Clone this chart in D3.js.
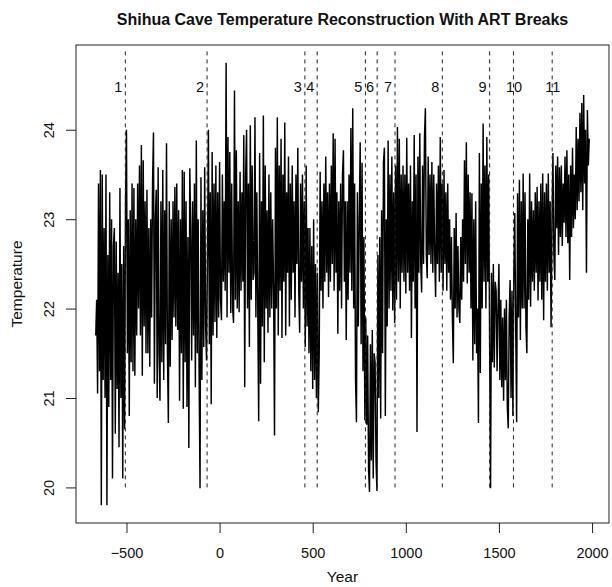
<!DOCTYPE html>
<html>
<head>
<meta charset="utf-8">
<script src="https://cdn.jsdelivr.net/npm/d3@7"></script>
<style>
  body { margin: 0; background: #fff; }
  svg { display: block; }
  text { font-family: "Liberation Sans", Arial, Helvetica, sans-serif; fill: #111; }
</style>
</head>
<body>
<svg id="chart" width="612" height="587"></svg>
<script>
// ---- data ----
const startYear = -665;   // first year of the series
const stepYears = 5;      // spacing of the samples
const temperature = [
  // -665 .. -620
  21.7, 22.1, 21.05, 23.4, 21.3, 23.55, 19.8, 23.5, 21.2, 22.9,
  // -615 .. -570
  21.0, 23.5, 19.8, 22.6, 20.9, 23.3, 21.2, 23.0, 20.1, 22.7,
  // -565 .. -520
  22.9, 20.6, 22.75, 21.1, 22.4, 20.45, 23.35, 21.0, 22.5, 20.1,
  // -515 .. -470
  22.7, 20.65, 23.2, 24.0, 21.5, 23.0, 20.8, 23.1, 21.4, 23.4,
  // -465 .. -420
  21.3, 23.35, 21.25, 23.0, 21.7, 23.4, 22.0, 23.6, 21.7, 23.83,
  // -415 .. -370
  21.25, 23.66, 21.8, 23.2, 21.5, 23.33, 21.5, 22.9, 21.35, 23.0,
  // -365 .. -320
  21.9, 23.4, 23.97, 21.16, 23.0, 23.33, 21.0, 23.58, 21.5, 20.97,
  // -315 .. -270
  23.2, 21.4, 23.55, 21.2, 23.1, 21.6, 23.85, 21.5, 20.72, 23.2,
  // -265 .. -220
  21.35, 23.0, 21.65, 23.2, 21.9, 23.36, 21.8, 23.4, 21.76, 23.1,
  // -215 .. -170
  20.97, 23.0, 21.5, 23.55, 20.88, 23.53, 21.4, 23.2, 20.9, 22.8,
  // -165 .. -120
  20.44, 23.57, 22.9, 21.42, 23.2, 21.7, 23.4, 21.12, 23.88, 21.5,
  // -115 .. -70
  23.0, 21.3, 19.99, 23.47, 21.2, 23.1, 21.57, 23.58, 21.8, 21.42,
  // -65 .. -20
  22.6, 24.0, 21.6, 23.3, 20.93, 23.75, 21.7, 23.4, 21.85, 23.6,
  // -15 .. 30
  21.67, 23.3, 21.9, 23.64, 22.1, 21.87, 23.5, 22.3, 23.2, 22.2,
  // 35 .. 80
  24.75, 21.9, 23.92, 22.4, 23.75, 21.95, 23.4, 22.0, 21.84, 24.44,
  // 85 .. 130
  22.1, 23.77, 22.0, 23.2, 21.96, 23.53, 22.2, 23.3, 22.3, 23.94,
  // 135 .. 180
  21.12, 23.5, 24.0, 22.0, 23.4, 21.57, 24.05, 22.1, 23.6, 22.32,
  // 185 .. 230
  22.4, 24.14, 21.9, 23.3, 22.0, 20.74, 23.74, 21.16, 23.2, 21.8,
  // 235 .. 280
  24.16, 21.4, 23.6, 22.0, 23.1, 21.73, 23.5, 21.9, 23.3, 22.0,
  // 285 .. 330
  23.0, 22.2, 20.58, 23.8, 22.0, 24.14, 21.7, 23.6, 22.2, 23.9,
  // 335 .. 380
  21.67, 23.5, 22.3, 24.08, 21.7, 23.3, 22.4, 23.7, 21.8, 23.4,
  // 385 .. 430
  22.1, 23.6, 22.4, 23.2, 21.9, 23.5, 22.5, 23.8, 22.2, 21.73,
  // 435 .. 480
  23.4, 22.3, 23.5, 22.0, 23.2, 21.57, 23.6, 21.8, 22.9, 21.5,
  // 485 .. 530
  22.9, 21.3, 22.7, 21.1, 23.0, 21.2, 22.5, 21.0, 22.4, 20.84,
  // 535 .. 580
  21.5, 23.53, 22.2, 23.2, 22.0, 23.4, 22.3, 23.7, 22.4, 23.3,
  // 585 .. 630
  22.13, 23.4, 22.3, 23.6, 22.5, 23.96, 22.2, 23.9, 22.4, 23.3,
  // 635 .. 680
  21.72, 23.2, 22.2, 23.4, 22.0, 23.5, 23.77, 22.3, 23.2, 21.65,
  // 685 .. 730
  23.2, 22.1, 23.5, 22.4, 24.02, 22.2, 24.24, 22.0, 23.4, 21.2,
  // 735 .. 780
  20.73, 23.3, 21.8, 23.0, 23.86, 21.6, 23.63, 21.3, 22.8, 20.75,
  // 785 .. 830
  21.9, 20.7, 21.7, 20.2, 19.95, 21.6, 20.3, 21.76, 20.1, 21.5,
  // 835 .. 880
  21.4, 20.3, 19.96, 22.6, 21.0, 22.8, 20.77, 23.1, 21.5, 23.64,
  // 885 .. 930
  23.8, 20.8, 23.0, 21.8, 23.88, 22.0, 23.5, 22.2, 23.7, 21.98,
  // 935 .. 980
  23.3, 21.84, 23.6, 22.1, 24.03, 22.3, 23.9, 22.0, 23.5, 22.4,
  // 985 .. 1030
  23.6, 22.3, 23.5, 22.17, 23.91, 22.4, 23.4, 22.2, 23.6, 21.67,
  // 1035 .. 1080
  23.2, 22.3, 23.94, 22.0, 23.5, 20.62, 23.7, 22.4, 23.96, 22.5,
  // 1085 .. 1130
  22.18, 23.6, 22.5, 23.9, 24.24, 22.6, 22.34, 23.7, 22.6, 23.5,
  // 1135 .. 1180
  22.5, 23.64, 22.4, 23.5, 22.6, 22.13, 23.4, 22.5, 23.6, 22.3,
  // 1185 .. 1230
  23.92, 22.4, 23.4, 22.2, 23.55, 22.5, 23.3, 22.2, 23.4, 22.4,
  // 1235 .. 1280
  23.0, 22.1, 22.8, 21.9, 21.39, 22.9, 22.0, 23.07, 21.9, 22.7,
  // 1285 .. 1330
  22.0, 21.84, 22.8, 22.1, 23.0, 22.3, 23.66, 22.5, 23.86, 22.28,
  // 1335 .. 1380
  23.5, 22.4, 23.3, 22.0, 23.29, 21.42, 23.0, 21.6, 23.2, 21.5,
  // 1385 .. 1430
  22.0, 20.72, 23.74, 21.28, 23.4, 22.0, 24.07, 22.3, 23.6, 22.0,
  // 1435 .. 1480
  23.92, 22.3, 23.5, 21.6, 19.99, 22.4, 21.4, 22.5, 21.34, 22.3,
  // 1485 .. 1530
  22.2, 21.3, 22.0, 22.5, 21.2, 22.1, 21.12, 21.9, 20.97, 22.0,
  // 1535 .. 1580
  21.2, 22.1, 20.9, 20.66, 21.9, 22.32, 21.0, 22.2, 20.8, 22.4,
  // 1585 .. 1630
  23.07, 21.8, 20.73, 23.29, 21.9, 23.44, 21.65, 23.2, 22.0, 23.51,
  // 1635 .. 1680
  22.0, 23.3, 21.8, 21.5, 23.0, 22.1, 23.51, 22.02, 23.2, 22.3,
  // 1685 .. 1730
  23.1, 22.2, 23.3, 22.4, 23.36, 22.09, 23.2, 22.3, 23.4, 22.1,
  // 1735 .. 1780
  23.51, 21.87, 23.3, 22.3, 23.4, 22.2, 23.51, 22.4, 23.2, 21.79,
  // 1785 .. 1830
  23.0, 23.74, 22.6, 22.32, 23.6, 22.9, 23.7, 22.6, 23.58, 22.8,
  // 1835 .. 1880
  23.6, 22.7, 23.4, 22.96, 23.7, 22.8, 23.77, 22.73, 23.5, 22.32,
  // 1885 .. 1930
  23.6, 22.8, 23.8, 22.9, 23.5, 23.0, 24.03, 23.1, 23.9, 23.2,
  // 1935 .. 1980
  24.19, 23.3, 24.3, 23.1, 24.39, 23.4, 24.0, 22.4, 24.22, 23.6,
  // 1985
  23.9
];
const breakYears  = [-506, -67, 458, 524, 783, 846, 942, 1196, 1450, 1578, 1786];
const breakLabels = ["1", "2", "3", "4", "5", "6", "7", "8", "9", "10", "11"];
const xTickValues = [-500, 0, 500, 1000, 1500, 2000];
const yTickValues = [20, 21, 22, 23, 24];
const titleText = "Shihua Cave Temperature Reconstruction With ART Breaks";
const xLabelText = "Year";
const yLabelText = "Temperature";

// ---- layout ----
const W = 612, H = 587;
const box = { left: 76, right: 609, top: 45, bottom: 523 };
const breakTop = 24.88;     // top of the break segments (data units)
const breakBottom = 20;     // bottom of the break segments
const breakLabelY = 24.48;  // vertical position of break numbers

const series = temperature.map((t, i) => ({ year: startYear + i * stepYears, t }));

// R-style 4% padding of the data range
const xExt = d3.extent(series, d => d.year);
const yExt = d3.extent(series, d => d.t);
const xPad = (xExt[1] - xExt[0]) * 0.04;
const yPad = (yExt[1] - yExt[0]) * 0.04;

const x = d3.scaleLinear().domain([xExt[0] - xPad, xExt[1] + xPad]).range([box.left, box.right]);
const y = d3.scaleLinear().domain([yExt[0] - yPad, yExt[1] + yPad]).range([box.bottom, box.top]);

const svg = d3.select("#chart");
svg.append("rect").attr("width", W).attr("height", H).attr("fill", "#fff");

// clip to plot region
svg.append("clipPath").attr("id", "plotclip")
  .append("rect").attr("x", box.left).attr("y", box.top)
  .attr("width", box.right - box.left).attr("height", box.bottom - box.top);

const plot = svg.append("g").attr("clip-path", "url(#plotclip)");

// series line
plot.append("path")
  .datum(series)
  .attr("fill", "none")
  .attr("stroke", "#000")
  .attr("stroke-width", 1.45)
  .attr("stroke-linejoin", "bevel")
  .attr("d", d3.line().x(d => x(d.year)).y(d => y(d.t)));

// break lines (dashed)
plot.selectAll("line.brk")
  .data(breakYears)
  .join("line")
  .attr("class", "brk")
  .attr("x1", d => x(d)).attr("x2", d => x(d))
  .attr("y1", y(breakBottom)).attr("y2", y(breakTop))
  .attr("stroke", "#222")
  .attr("stroke-width", 1)
  .attr("stroke-dasharray", "4,4");

// break labels
svg.selectAll("text.brklab")
  .data(breakYears)
  .join("text")
  .attr("class", "brklab")
  .attr("x", (d, i) => x(d) + (breakLabels[i].length === 1 ? -7 : 0.5))
  .attr("y", y(breakLabelY))
  .attr("dy", "0.35em")
  .attr("text-anchor", "middle")
  .style("font-size", "14.5px")
  .text((d, i) => breakLabels[i]);

// box
svg.append("rect")
  .attr("x", box.left).attr("y", box.top)
  .attr("width", box.right - box.left).attr("height", box.bottom - box.top)
  .attr("fill", "none").attr("stroke", "#222").attr("stroke-width", 1);

// x axis
const fmt = d3.format("d");
const xAxis = svg.append("g")
  .attr("transform", `translate(0,${box.bottom})`)
  .call(d3.axisBottom(x).tickValues(xTickValues).tickSize(10).tickPadding(15)
        .tickFormat(d => fmt(d)));
xAxis.select(".domain").remove();
xAxis.selectAll("line").attr("stroke", "#222");
xAxis.selectAll("text").style("font-size", "14.5px")
  .style("font-family", '"Liberation Sans", Arial, sans-serif').attr("fill", "#111");

// y axis
const yAxis = svg.append("g")
  .attr("transform", `translate(${box.left},0)`)
  .call(d3.axisLeft(y).tickValues(yTickValues).tickSize(10).tickFormat(d => fmt(d)));
yAxis.select(".domain").remove();
yAxis.selectAll("line").attr("stroke", "#222");
yAxis.selectAll("text")
  .attr("x", null).attr("dy", null)
  .attr("text-anchor", "middle")
  .attr("transform", "translate(-27,0) rotate(-90)")
  .attr("dy", "0.35em")
  .style("font-size", "14.5px")
  .style("font-family", '"Liberation Sans", Arial, sans-serif').attr("fill", "#111");

// title
svg.append("text")
  .attr("x", (box.left + box.right) / 2).attr("y", 25)
  .attr("text-anchor", "middle")
  .style("font-size", "16px").style("font-weight", "bold")
  .text(titleText);

// axis titles
svg.append("text")
  .attr("x", (box.left + box.right) / 2).attr("y", 582)
  .attr("text-anchor", "middle")
  .style("font-size", "15.5px")
  .text(xLabelText);

svg.append("text")
  .attr("transform", `translate(22,${(box.top + box.bottom) / 2}) rotate(-90)`)
  .attr("text-anchor", "middle")
  .style("font-size", "15.5px")
  .text(yLabelText);
</script>
</body>
</html>
